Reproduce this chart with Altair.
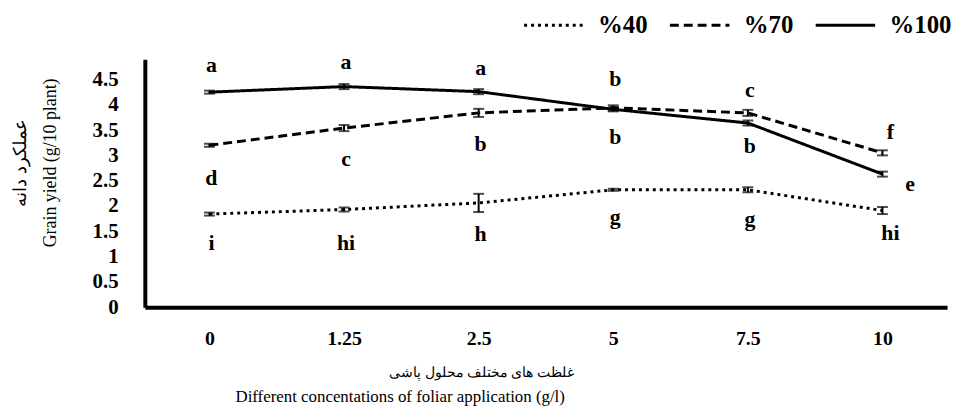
import altair as alt
import pandas as pd

conc = ["0", "1.25", "2.5", "5", "7.5", "10"]
series = ["%40", "%70", "%100"]
mean_40 = [1.84, 1.93, 2.06, 2.32, 2.32, 1.91]
mean_70 = [3.20, 3.54, 3.84, 3.94, 3.84, 3.05]
mean_100 = [4.25, 4.36, 4.26, 3.91, 3.64, 2.63]
err_40 = [0.03, 0.04, 0.18, 0.02, 0.05, 0.07]
err_70 = [0.03, 0.06, 0.08, 0.05, 0.06, 0.05]
err_100 = [0.03, 0.05, 0.05, 0.04, 0.05, 0.05]

# significance letters (group letter, label height in y units)
let_top = ["a", "a", "a", "b", "c", "f"]
let_top_y = [4.79, 4.85, 4.73, 4.50, 4.30, 3.46]
let_mid = ["d", "c", "b", "b", "b", "e"]
let_mid_y = [2.55, 2.93, 3.22, 3.36, 3.18, 2.44]
let_low = ["i", "hi", "h", "g", "g", "hi"]
let_low_y = [1.26, 1.26, 1.45, 1.79, 1.75, 1.47]
y_ticks = [0, 0.5, 1, 1.5, 2, 2.5, 3, 3.5, 4, 4.5]

rows = []
for s, m, e in zip(series, [mean_40, mean_70, mean_100], [err_40, err_70, err_100]):
    for c, mv, ev in zip(conc, m, e):
        rows.append({"conc": c, "series": s, "mean": mv, "lo": mv - ev, "hi": mv + ev})
df = pd.DataFrame(rows)

lrows = []
for L, Y in [(let_top, let_top_y), (let_mid, let_mid_y), (let_low, let_low_y)]:
    for c, l, y in zip(conc, L, Y):
        lrows.append({"conc": c, "letter": l, "ypos": y})
ldf = pd.DataFrame(lrows)

SERIF = "'Liberation Serif', 'DejaVu Serif', serif"

x_axis = alt.Axis(
    title="غلظت های مختلف محلول پاشی", titleFont=SERIF, titleFontSize=14,
    titleFontWeight="normal", titleX=339, titleY=66, titleBaseline="middle",
    labelAngle=0, labelFont=SERIF, labelFontSize=20, labelFontWeight="bold",
    labelColor="black", labelPadding=22, ticks=False, domainColor="black",
    domainWidth=4,
)
x_scale = alt.Scale(type="point", padding=0.48)
y_scale = alt.Scale(domain=[0, 4.9], nice=False, zero=True)
y_axis = alt.Axis(
    values=y_ticks, format="~g", grid=False, ticks=False,
    labelFont=SERIF, labelFontSize=21, labelFontWeight="bold", labelColor="black",
    labelPadding=27, labelOverlap=False, domainColor="black", domainWidth=4,
    title=["عملکرد دانه", "Grain yield  (g/10 plant)"], titleFont=SERIF, titleFontSize=18,
    titleFontWeight="normal", titleAngle=-90, titleX=-116, titleY=104, titleAlign="center",
    titleBaseline="bottom", titleLineHeight=30,
)


def X():
    return alt.X("conc:N", sort=conc, scale=x_scale, axis=x_axis)


def Y(field):
    return alt.Y(field, scale=y_scale, axis=y_axis)


base = alt.Chart(df)

lines = base.mark_line(color="black", strokeWidth=3).encode(
    x=X(),
    y=Y("mean:Q"),
    strokeDash=alt.StrokeDash(
        "series:N", sort=series,
        scale=alt.Scale(domain=series, range=[[3, 4], [9, 5], [1, 0]]),
        legend=alt.Legend(
            orient="none", legendX=381, legendY=-66, direction="horizontal", title=None,
            symbolType="stroke", symbolSize=3600, symbolStrokeWidth=3,
            symbolStrokeColor="black", labelFont=SERIF, labelFontSize=25,
            labelFontWeight="bold", labelColor="black", labelOffset=13, columnPadding=16,
        ),
    ),
    detail="series:N",
)

rules = base.mark_rule(color="black", strokeWidth=2).encode(x=X(), y=Y("lo:Q"), y2="hi:Q")
tick_lo = base.mark_tick(color="black", size=11, thickness=2).encode(x=X(), y=Y("lo:Q"))
tick_hi = base.mark_tick(color="black", size=11, thickness=2).encode(x=X(), y=Y("hi:Q"))

lbase = alt.Chart(ldf)
txt_main = lbase.transform_filter(alt.datum.conc != "10").mark_text(
    font=SERIF, fontSize=22, fontWeight="bold", color="black", dx=2
).encode(x=X(), y=Y("ypos:Q"), text="letter:N")
txt_end = lbase.transform_filter(
    (alt.datum.conc == "10") & (alt.datum.letter != "e")
).mark_text(
    font=SERIF, fontSize=22, fontWeight="bold", color="black", dx=8
).encode(x=X(), y=Y("ypos:Q"), text="letter:N")
txt_e = lbase.transform_filter(
    (alt.datum.conc == "10") & (alt.datum.letter == "e")
).mark_text(
    font=SERIF, fontSize=22, fontWeight="bold", color="black", dx=28
).encode(x=X(), y=Y("ypos:Q"), text="letter:N")

chart = alt.layer(lines, rules, tick_lo, tick_hi, txt_main, txt_end, txt_e).properties(
    width=809, height=250,
    background="white",
    autosize=alt.AutoSizeParams(type="none"),
    padding={"left": 138, "top": 50, "right": 7, "bottom": 101},
    title=alt.TitleParams(
        "Different  concentations of foliar application (g/l)", orient="bottom",
        anchor="middle", frame="group", dx=-147, offset=10, font=SERIF, fontSize=17,
        fontWeight="normal", color="black",
    ),
).configure_view(stroke=None)

chart.save("out.html", embed_options={"renderer": "svg", "actions": False})
